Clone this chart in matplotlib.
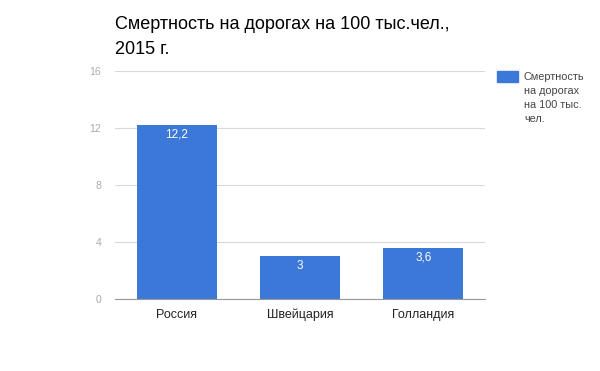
import matplotlib
matplotlib.use("Agg")
import matplotlib.pyplot as plt
from matplotlib.patches import Rectangle

categories = ["Россия", "Швейцария", "Голландия"]
values = [12.2, 3.0, 3.6]
value_labels = ["12,2", "3", "3,6"]
yticks = [0, 4, 8, 12, 16]
title = "Смертность на дорогах на 100 тыс.чел.,\n2015 г."
legend_text = "Смертность\nна дорогах\nна 100 тыс.\nчел."

plt.rcParams['font.family'] = ['Liberation Sans', 'DejaVu Sans']
color = "#3c78d8"

fig = plt.figure(figsize=(6, 3.71), dpi=100)
ax = fig.add_axes([115/600, 1-299/371, 370/600, 228/371])

x = list(range(len(categories)))
bars = ax.bar(x, values, width=0.65, color=color, zorder=3)
ax.set_xlim(-0.5, len(categories)-0.5)
ax.set_ylim(0, 16)
ax.set_yticks(yticks)
ax.set_yticklabels([str(t) for t in yticks], color="#aaaaaa", fontsize=7.5)
ax.set_xticks(x)
ax.set_xticklabels(categories, fontsize=9, color="#222222")
ax.tick_params(axis='both', length=0)
ax.tick_params(axis='y', pad=10)
ax.tick_params(axis='x', pad=7)
ax.grid(axis='y', color="#d9d9d9", linewidth=0.8, zorder=0)
for s in ["top", "right", "left"]:
    ax.spines[s].set_visible(False)
ax.spines["bottom"].set_color("#999999")
ax.spines["bottom"].set_zorder(4)

for b, lab in zip(bars, value_labels):
    ax.annotate(lab, (b.get_x()+b.get_width()/2, b.get_height()),
                xytext=(0, -2.5), textcoords="offset points",
                ha="center", va="top", color="white", fontsize=8.5, zorder=5)

fig.text(115/600, 1-16/371, title, fontsize=13, va="top", ha="left",
         color="#000000", linespacing=1.6)

fig.patches.append(Rectangle((497/600, 1-82/371), 21/600, 11/371,
                             transform=fig.transFigure, color=color, figure=fig))
fig.text(524/600, 1-72/371, legend_text, fontsize=7.8, va="top", ha="left",
         color="#444444", linespacing=1.5)

fig.savefig("out.png", dpi=100)
